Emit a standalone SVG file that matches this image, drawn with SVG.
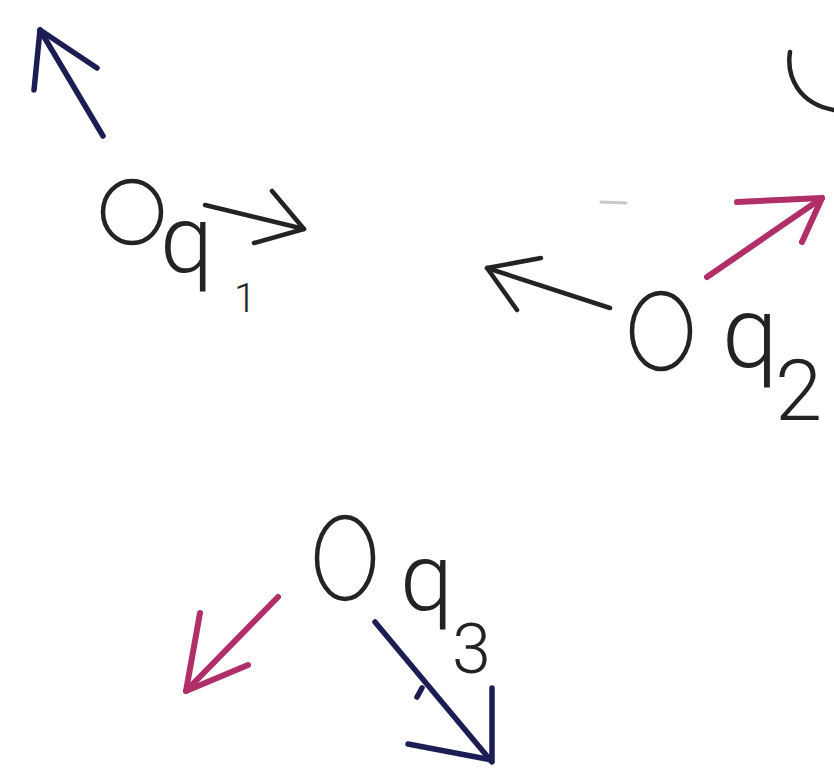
<svg xmlns="http://www.w3.org/2000/svg" width="834" height="783" viewBox="0 0 834 783">
  <style>
    .ink { fill: none; stroke: #232323; stroke-width: 4.5; stroke-linecap: round; stroke-linejoin: round; }
    .navy { fill: none; stroke: #1d1d55; stroke-width: 5.5; stroke-linecap: round; stroke-linejoin: round; }
    .mag { fill: none; stroke: #b02f68; stroke-width: 6; stroke-linecap: round; stroke-linejoin: round; }
    .node { fill: none; stroke: #232323; stroke-width: 4.5; }
    .lbl { font-family: Roboto, "Liberation Sans", "DejaVu Sans", sans-serif; font-weight: 300; fill: #232323; }
  </style>
  <rect width="834" height="783" fill="#ffffff"/>

  <!-- partial arc at top right edge -->
  <path class="ink" d="M790,52 C786,78 800,104 834,110" stroke-width="3.5"/>
  <!-- faint smudge -->
  <line x1="601" y1="202" x2="626" y2="203" stroke="#c8c8c8" stroke-width="3" stroke-linecap="round"/>

  <g id="q1">
    <ellipse class="node" cx="132" cy="212" rx="29" ry="31"/>
    <text class="lbl" x="160" y="272" font-size="95">q</text>
    <text class="lbl" x="234" y="312" font-size="40">1</text>
  </g>

  <g id="q2">
    <ellipse class="node" cx="661" cy="331" rx="29" ry="38"/>
    <text class="lbl" x="722" y="367" font-size="100">q</text>
    <text class="lbl" x="775" y="420" font-size="85">2</text>
  </g>

  <g id="q3">
    <ellipse class="node" cx="345" cy="558" rx="28" ry="41"/>
    <text class="lbl" x="400" y="610" font-size="95">q</text>
    <text class="lbl" x="452" y="673" font-size="70">3</text>
  </g>

  <g id="connectors">
    <g>
      <line class="navy" x1="103" y1="136" x2="40" y2="30"/>
      <polyline class="navy" points="34,90 40,30 97,68"/>
    </g>
    <g>
      <line class="ink" x1="205" y1="205" x2="304" y2="229"/>
      <polyline class="ink" points="272,191 304,229 254,243"/>
    </g>
    <g>
      <line class="ink" x1="610" y1="308" x2="487" y2="268"/>
      <polyline class="ink" points="541,258 487,268 517,310"/>
    </g>
    <g>
      <line class="mag" x1="707" y1="277" x2="822" y2="198"/>
      <polyline class="mag" points="737,202 822,198 802,242"/>
    </g>
    <g>
      <line class="mag" x1="278" y1="597" x2="186" y2="691"/>
      <polyline class="mag" points="200,613 186,691 248,665"/>
    </g>
    <g>
      <line class="navy" x1="375" y1="622" x2="492" y2="762"/>
      <polyline class="navy" points="408,744 492,760 492,688"/>
      <line class="navy" x1="417" y1="697" x2="422" y2="688" stroke-width="4"/>
    </g>
  </g>
</svg>
